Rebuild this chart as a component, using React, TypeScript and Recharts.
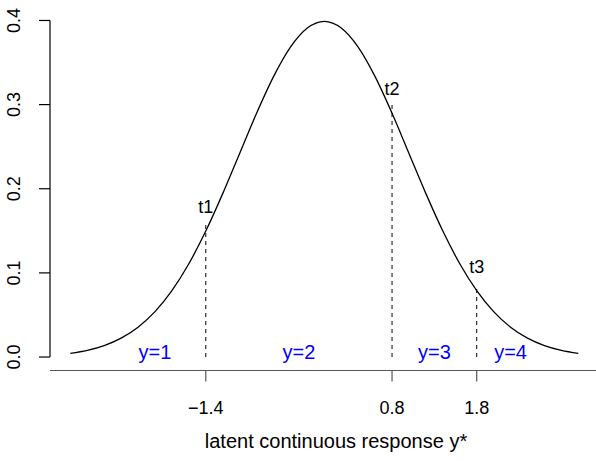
import { ComposedChart, Line, Scatter, XAxis, YAxis, ReferenceLine } from 'recharts';

// density curve (x, height)
const curveX = [
  -3.0, -2.8, -2.6, -2.4, -2.2, -2.0, -1.8, -1.6, -1.4, -1.2, -1.0, -0.8, -0.6, -0.4, -0.2, 0.0,
  0.2, 0.4, 0.6, 0.8, 1.0, 1.2, 1.4, 1.6, 1.8, 2.0, 2.2, 2.4, 2.6, 2.8, 3.0,
];
const curveY = [
  0.0044, 0.0079, 0.0136, 0.0224, 0.0355, 0.054, 0.079, 0.1109, 0.1497, 0.1942, 0.242, 0.2897,
  0.3332, 0.3683, 0.391, 0.3989, 0.391, 0.3683, 0.3332, 0.2897, 0.242, 0.1942, 0.1497, 0.1109,
  0.079, 0.054, 0.0355, 0.0224, 0.0136, 0.0079, 0.0044,
];

const thresholds = [-1.4, 0.8, 1.8];
const thresholdNames = ['t1', 't2', 't3'];
const dashTops = [0.16, 0.3, 0.084];
const nameHeights = [0.178, 0.318, 0.107];

const categories = ['y=1', 'y=2', 'y=3', 'y=4'];
const categoryX = [-2.0, -0.3, 1.3, 2.2];
const categoryY = [0.0055, 0.0055, 0.0055, 0.0055];

const yTicks = [0, 0.1, 0.2, 0.3, 0.4];

const X_DOMAIN: [number, number] = [-3.24, 3.209];
const Y_DOMAIN: [number, number] = [-0.016, 0.416];
const FONT = '"Liberation Sans", Arial, Helvetica, sans-serif';
const FS = 18;

const curve = curveX.map((x, i) => ({ x, y: curveY[i] }));
const tLabels = thresholds.map((x, i) => ({ x, y: nameHeights[i], name: thresholdNames[i] }));
const catLabels = categoryX.map((x, i) => ({ x, y: categoryY[i], name: categories[i] }));

const fmt = (v: number) => (v < 0 ? `\u2212${Math.abs(v)}` : `${v}`);

function XTick({ x, y, payload }: any) {
  return (
    <text x={x} y={y + 24} textAnchor="middle" dominantBaseline="central" fontSize={FS} fontFamily={FONT} fill="#000">
      {fmt(payload.value)}
    </text>
  );
}

function YTick({ y, payload }: any) {
  return (
    <text
      x={14}
      y={y}
      transform={`rotate(-90 14 ${y})`}
      textAnchor="middle"
      dominantBaseline="central"
      fontSize={FS}
      fontFamily={FONT}
      fill="#000"
    >
      {payload.value.toFixed(1)}
    </text>
  );
}

function AxisTitle({ viewBox }: any) {
  const { x, y, width, height } = viewBox;
  return (
    <text x={x + width / 2 + 13} y={y + height - 13} textAnchor="middle" fontSize={20} fontFamily={FONT} fill="#000">
      latent continuous response y*
    </text>
  );
}

function TextMark(color: string, size: number) {
  return (props: any) => (
    <text
      x={props.cx}
      y={props.cy}
      textAnchor="middle"
      dominantBaseline="central"
      fontSize={size}
      fontFamily={FONT}
      fill={color}
    >
      {props.payload.name}
    </text>
  );
}

export default function App() {
  return (
    <div style={{ position: 'absolute', left: 0, top: 0, width: 596, height: 461, background: '#fff' }}>
      <ComposedChart width={596} height={461} data={curve} margin={{ top: 7, right: 0, bottom: 0, left: 0 }}>
        <XAxis
          dataKey="x"
          type="number"
          domain={X_DOMAIN}
          allowDataOverflow
          ticks={thresholds}
          interval={0}
          height={90.5}
          tickSize={11}
          tick={<XTick />}
          stroke="#555"
          axisLine={{ stroke: '#555', strokeWidth: 1.2 }}
          tickLine={{ stroke: '#555', strokeWidth: 1.2 }}
          label={<AxisTitle />}
        />
        <YAxis
          type="number"
          domain={Y_DOMAIN}
          allowDataOverflow
          ticks={yTicks}
          interval={0}
          width={50}
          tickSize={11}
          axisLine={false}
          tickLine={{ stroke: '#000', strokeWidth: 1.2 }}
          tick={<YTick />}
        />
        <ReferenceLine
          segment={[
            { x: X_DOMAIN[0], y: yTicks[0] },
            { x: X_DOMAIN[0], y: yTicks[yTicks.length - 1] },
          ]}
          stroke="#000"
          strokeWidth={1.2}
          ifOverflow="visible"
        />
        {thresholds.map((t, i) => (
          <ReferenceLine
            key={t}
            segment={[
              { x: t, y: 0 },
              { x: t, y: dashTops[i] },
            ]}
            stroke="#000"
            strokeWidth={1}
            strokeDasharray="4 4"
            ifOverflow="visible"
          />
        ))}
        <Line
          dataKey="y"
          type="monotone"
          stroke="#000"
          strokeWidth={1.3}
          dot={false}
          isAnimationActive={false}
        />
        <Scatter data={tLabels} dataKey="y" shape={TextMark('#000', FS)} isAnimationActive={false} />
        <Scatter data={catLabels} dataKey="y" shape={TextMark('#0000ff', 20)} isAnimationActive={false} />
      </ComposedChart>
    </div>
  );
}
